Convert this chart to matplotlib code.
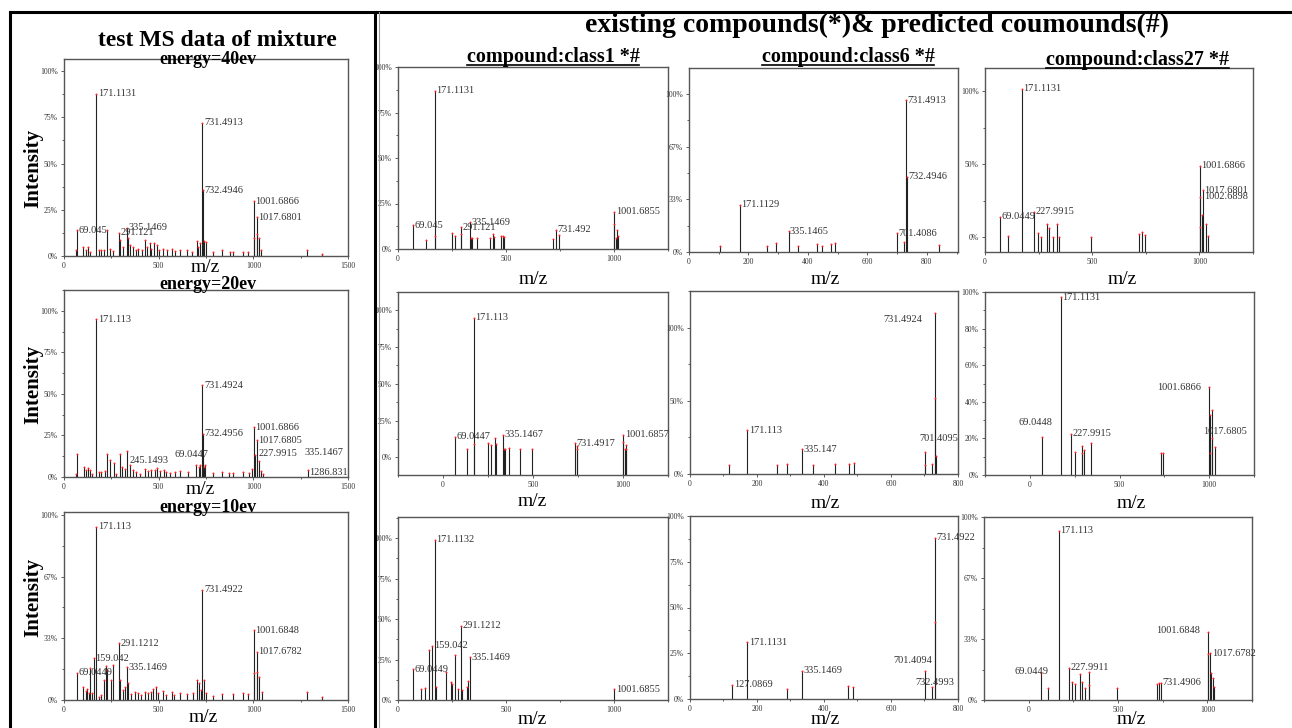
import matplotlib
matplotlib.use('Agg')
import matplotlib.pyplot as plt
from matplotlib.ticker import AutoMinorLocator
from matplotlib.lines import Line2D

W, H = 1292, 728
SERIF = 'Liberation Serif'

# peaks: (m/z, relative intensity)
mix40 = [(62, .03), (69.045, .14), (100, .05), (115, .03), (127, .05), (136, .02), (171.1131, .876),
         (184, .03), (198, .03), (212, .035), (228, .14), (242, .04), (259, .027), (291.121, .127),
         (298, .086), (312, .05), (335.1469, .15), (339, .10), (351, .06), (365, .05), (380, .03),
         (392, .04), (410, .032), (427, .086), (440, .05), (454, .068), (462, .04), (475, .068),
         (489, .06), (503, .032), (524, .04), (542, .03), (568, .04), (586, .025), (612, .032),
         (648, .03), (674, .022), (701, .082), (709, .05), (718, .068), (731.4913, .72),
         (732.4946, .355), (740, .082), (748, .073), (789, .023), (833, .032), (877, .023),
         (895, .02), (948, .023), (974, .02), (1001.6866, .296), (1004, .10), (1017.6801, .21),
         (1022, .12), (1032, .095), (1041, .03), (1283, .035), (1362, .01)]
mix20 = [(65, .02), (69.0447, .14), (104, .06), (114, .04), (127, .056), (136, .04), (146, .02),
         (171.113, .948), (185, .03), (197, .03), (215, .034), (229, .14), (245.1493, .10),
         (262, .086), (276, .02), (294, .137), (308, .06), (324, .046), (335.1467, .155), (350, .07),
         (365, .04), (382, .03), (400, .02), (426, .05), (444, .034), (461, .04), (479, .04),
         (491, .054), (505, .034), (527, .04), (541, .03), (558, .024), (585, .03), (611, .034),
         (655, .03), (699, .07), (711, .06), (720, .074), (731.4924, .553), (732.4956, .26),
         (738, .06), (747, .074), (787, .024), (836, .03), (872, .024), (893, .024), (946, .03),
         (977, .026), (993, .05), (1001.6866, .30), (1011, .13), (1017.6805, .22), (1030, .096),
         (1042, .034), (1051, .02), (1286.831, .045)]
mix10 = [(69.0449, .148), (100, .068), (115, .05), (124, .058), (132, .036), (139, .175), (150, .036),
         (159.042, .225), (171.113, .937), (185, .018), (198, .027), (212, .11), (221, .184),
         (228, .16), (247, .108), (259, .19), (291.1212, .306), (298, .11), (309, .054), (321, .072),
         (335.1469, .177), (339, .09), (356, .032), (374, .045), (392, .036), (409, .027), (427, .045),
         (445, .036), (457, .045), (471, .058), (485, .072), (498, .036), (524, .05), (538, .027),
         (568, .045), (581, .027), (612, .04), (648, .03), (683, .036), (700, .108), (713, .09),
         (722, .054), (731.4922, .595), (739, .108), (750, .036), (789, .022), (833, .032),
         (895, .032), (948, .036), (974, .032), (1001.6848, .378), (1006, .144), (1017.6782, .26),
         (1022, .153), (1031, .126), (1045, .045), (1283, .045), (1362, .014)]

class1_r1 = [(69.045, .13), (130, .05), (171.1131, .87), (171.6, .07), (250, .088), (264, .07),
             (291.121, .12), (291.6, .08), (335.1469, .148), (337, .06), (344, .06), (365, .06),
             (425, .06), (440, .08), (445, .065), (476, .07), (487, .07), (490, .065), (717, .055),
             (731.492, .105), (745, .075), (1001.6855, .205), (1002, .135), (1010, .06), (1015, .105),
             (1017, .07)]
class6_r1 = [(104, .04), (171.1129, .30), (262, .04), (293, .055), (335.1465, .13), (367, .04),
             (431, .05), (447, .04), (477, .05), (491, .06), (701.4086, .12), (723, .065),
             (731.4913, .96), (732.4946, .475), (840, .045)]
class27_r1 = [(69.0449, .139), (106, .005), (171.1131, 1.018), (227.9915, .173), (245, .03), (263, .0),
              (290, .089), (297, .064), (319, .002), (338, .089), (343, .0), (495, .002), (718, .018),
              (731, .032), (745, .011), (1001.6866, .488), (1002.6898, .276), (1003, .07), (1014, .15),
              (1017.6801, .322), (1033, .089), (1040, .01)]

class1_r2 = [(69.0447, .14), (133, .06), (171.113, .95), (172, .09), (250, .10), (267, .085),
             (291, .135), (292, .09), (335.1467, .155), (339, .06), (344, .06), (367, .065),
             (428, .055), (494, .055), (731.4917, .097), (744, .08), (745, .06), (1001.6857, .155),
             (1002, .105), (1010, .06), (1017, .085), (1018, .06)]
class6_r2 = [(117, .06), (171.113, .30), (261, .06), (291, .065), (335.147, .17), (366, .06),
             (432, .065), (474, .07), (489, .075), (701.4095, .15), (702, .06), (723, .07),
             (731.4924, 1.10), (732, .52), (733, .12)]
class27_r2 = [(69.0448, .21), (171.1131, .97), (227.9915, .225), (250, .125), (289, .12), (290, .16),
              (300, .135), (339, .175), (731, .12), (745, .12), (1001.6866, .48), (1002, .33),
              (1003, .12), (1017.6805, .355), (1018, .20), (1033, .155)]

class1_r3 = [(69.0449, .19), (107, .065), (125, .075), (143, .31), (159.042, .335), (171.1132, .99),
             (175, .08), (222, .17), (246, .11), (248, .10), (264, .28), (276, .065), (291.1212, .46),
             (294, .06), (319, .08), (322, .115), (335.1469, .265), (1001.6855, .065)]
class6_r3 = [(126, .077), (171.1131, .31), (290, .055), (335.1469, .155), (472, .07), (486, .065),
             (701.4094, .155), (723, .065), (731.4922, .88), (732.4993, .42)]
class27_r3 = [(69.0449, .145), (106, .067), (171.113, .925), (227.9911, .175), (245, .10), (260, .087),
              (289, .14), (298, .10), (317, .068), (335, .155), (340, .08), (494, .065), (716, .087),
              (731.4906, .095), (740, .095), (1001.6848, .37), (1002, .25), (1017.6782, .255),
              (1018, .15), (1033, .12), (1035, .07)]

# peak labels: (text, x, y, ha)
mix40_lab = [("171.1131", 171.1, .876, 'left'), ("731.4913", 731.5, .72, 'left'),
             ("732.4946", 732, .355, 'left'), ("1001.6866", 1001.7, .296, 'left'),
             ("1017.6801", 1017.7, .21, 'left'), ("69.045", 69, .14, 'left'),
             ("291.121", 291, .125, 'left'), ("335.1469", 335, .155, 'left')]
mix20_lab = [("171.113", 171.1, .948, 'left'), ("731.4924", 731.5, .553, 'left'),
             ("732.4956", 732, .26, 'left'), ("1001.6866", 1001.7, .30, 'left'),
             ("1017.6805", 1017.7, .22, 'left'), ("227.9915", 1019, .14, 'left'),
             ("335.1467", 1263, .15, 'left'), ("1286.831", 1289, .03, 'left'),
             ("245.1493", 338, .10, 'left'), ("69.0447", 576, .137, 'left')]
mix10_lab = [("171.113", 171.1, .937, 'left'), ("731.4922", 731.5, .595, 'left'),
             ("1001.6848", 1001.7, .378, 'left'), ("1017.6782", 1017.7, .26, 'left'),
             ("291.1212", 291, .306, 'left'), ("159.042", 159, .225, 'left'),
             ("335.1469", 335, .177, 'left'), ("69.0449", 69, .148, 'left')]

class1_r1_lab = [("69.045", 69, .13, 'left'), ("171.1131", 171.1, .87, 'left'),
                 ("291.121", 291, .12, 'left'), ("335.1469", 335, .148, 'left'),
                 ("731.492", 731.5, .105, 'left'), ("1001.6855", 1001.7, .205, 'left')]
class6_r1_lab = [("171.1129", 171.1, .30, 'left'), ("335.1465", 335, .13, 'left'),
                 ("701.4086", 701.4, .12, 'left'), ("731.4913", 731.5, .96, 'left'),
                 ("732.4946", 732.5, .475, 'left')]
class27_r1_lab = [("69.0449", 69, .139, 'left'), ("171.1131", 171.1, 1.018, 'left'),
                  ("227.9915", 228, .173, 'left'), ("1001.6866", 1001.7, .488, 'left'),
                  ("1017.6801", 1017.7, .322, 'left'), ("1002.6898", 1017.7, .276, 'left')]

class1_r2_lab = [("69.0447", 69, .14, 'left'), ("171.113", 171.1, .95, 'left'),
                 ("335.1467", 335, .155, 'left'), ("731.4917", 731.5, .097, 'left'),
                 ("1001.6857", 1001.7, .155, 'left')]
class6_r2_lab = [("171.113", 171.1, .30, 'left'), ("335.147", 335, .17, 'left'),
                 ("731.4924", 573, 1.056, 'left'), ("701.4095", 681, .245, 'left')]
class27_r2_lab = [("69.0448", -72, .285, 'left'), ("171.1131", 171.1, .97, 'left'),
                  ("227.9915", 228, .225, 'left'), ("1001.6866", 961, .48, 'right'),
                  ("1017.6805", 961, .235, 'left')]

class1_r3_lab = [("69.0449", 69, .19, 'left'), ("159.042", 162, .335, 'left'),
                 ("171.1132", 171.1, .99, 'left'), ("291.1212", 291, .46, 'left'),
                 ("335.1469", 335, .265, 'left'), ("1001.6855", 1001.7, .065, 'left')]
class6_r3_lab = [("127.0869", 127, .077, 'left'), ("171.1131", 171.1, .31, 'left'),
                 ("335.1469", 335, .155, 'left'), ("701.4094", 602, .21, 'left'),
                 ("731.4922", 731.5, .88, 'left'), ("732.4993", 668, .088, 'left')]
class27_r3_lab = [("69.0449", -89, .158, 'left'), ("171.113", 171.1, .925, 'left'),
                  ("227.9911", 228, .175, 'left'), ("731.4906", 739, .093, 'left'),
                  ("1001.6848", 967, .38, 'right'), ("1017.6782", 1017.7, .255, 'left')]

pct4 = ([0, .25, .5, .75, 1], ["0%", "25%", "50%", "75%", "100%"])
pct3 = ([0, 1/3, 2/3, 1], ["0%", "33%", "67%", "100%"])
pct2 = ([0, .5, 1], ["0%", "50%", "100%"])
pct5 = ([0, .2, .4, .6, .8, 1], ["0%", "20%", "40%", "60%", "80%", "100%"])

fig = plt.figure(figsize=(W / 100, H / 100), dpi=100)


def fx(x):
    return x / W


def fy(y):
    return 1 - y / H


def panel(box, peaks, labels, xlim, ylim, xticks, yt):
    x0, y0, x1, y1 = box
    ax = fig.add_axes([fx(x0), fy(y1), (x1 - x0) / W, (y1 - y0) / H])
    mz = [p[0] for p in peaks]
    inten = [p[1] for p in peaks]
    ax.vlines(mz, ylim[0], inten, colors='#222222', lw=0.8)
    ax.plot(mz, inten, 'o', ms=1.4, color='#ff2020', mec='none')
    for txt, x, y, ha in labels:
        dx = 1 if ha == 'left' else -1
        ax.annotate(txt, (x, y), xytext=(dx, 0), textcoords='offset points',
                    ha=ha, va='center', fontsize=7.5, family=SERIF, color='#333')
    ax.set_xlim(*xlim)
    ax.set_ylim(*ylim)
    ax.set_xticks(xticks)
    ax.set_yticks(yt[0])
    ax.set_yticklabels(yt[1])
    ax.xaxis.set_minor_locator(AutoMinorLocator(2))
    ax.yaxis.set_minor_locator(AutoMinorLocator(2))
    ax.tick_params(which='both', labelsize=5.5, length=2.5, width=0.6, color='#444', pad=2)
    ax.tick_params(which='minor', length=1.5)
    for lab in ax.get_xticklabels() + ax.get_yticklabels():
        lab.set_family(SERIF)
        lab.set_color('#333')
    for s in ax.spines.values():
        s.set_color('#555')
        s.set_linewidth(1.0)
    return ax


# left column: test mixture
panel((64, 59, 348, 256), mix40, mix40_lab, (0, 1500), (0, 1.065), [0, 500, 1000, 1500], pct4)
panel((64, 290, 348, 477), mix20, mix20_lab, (0, 1500), (0, 1.125), [0, 500, 1000, 1500], pct4)
panel((64, 512, 348, 700), mix10, mix10_lab, (0, 1500), (0, 1.016), [0, 500, 1000, 1500], pct3)

# right grid
panel((398, 67, 668, 249), class1_r1, class1_r1_lab, (0, 1250), (0, 1.0), [0, 500, 1000], pct4)
panel((689, 68, 958, 252), class6_r1, class6_r1_lab, (0, 905), (0, 1.165), [0, 200, 400, 600, 800], pct3)
panel((985, 68, 1253, 252), class27_r1, class27_r1_lab, (0, 1250), (-0.103, 1.16), [0, 500, 1000], pct2)

panel((398, 292, 668, 475), class1_r2, class1_r2_lab, (-250, 1250), (-0.12, 1.125), [0, 500, 1000], pct4)
panel((690, 291, 958, 474), class6_r2, class6_r2_lab, (0, 800), (0, 1.25), [0, 200, 400, 600, 800], pct2)
panel((985, 292, 1254, 475), class27_r2, class27_r2_lab, (-250, 1250), (0, 1.0), [0, 500, 1000], pct5)

panel((398, 517, 668, 700), class1_r3, class1_r3_lab, (0, 1250), (0, 1.13), [0, 500, 1000], pct4)
panel((690, 516, 958, 699), class6_r3, class6_r3_lab, (0, 800), (0, 1.0), [0, 200, 400, 600, 800], pct4)
panel((984, 517, 1252, 700), class27_r3, class27_r3_lab, (-250, 1250), (0, 1.0), [0, 500, 1000], pct3)

# titles and axis words
fig.text(fx(217), fy(41), "test MS data of mixture", ha='center', va='center',
         fontsize=17, weight='bold', family=SERIF)
fig.text(fx(877), fy(25), "existing compounds(*)& predicted coumounds(#)", ha='center', va='center',
         fontsize=20, weight='bold', family=SERIF)

for txt, y in [("energy=40ev", 60), ("energy=20ev", 285), ("energy=10ev", 507)]:
    fig.text(fx(208), fy(y), txt, ha='center', va='center', fontsize=13, weight='bold', family=SERIF)

for y in [168, 384, 597]:
    fig.text(fx(33), fy(y), "Intensity", ha='center', va='center', rotation=90,
             fontsize=15, weight='bold', family=SERIF)

for x, y in [(205, 268), (200, 490), (203, 718), (533, 279), (825, 280), (1122, 280),
             (532, 502), (825, 503), (1131, 503), (532, 720), (825, 720), (1131, 720)]:
    fig.text(fx(x), fy(y), "m/z", ha='center', va='center', fontsize=14, family=SERIF)

subs = []
for txt, x, y in [("compound:class1 *#", 553, 57), ("compound:class6 *#", 848, 57),
                  ("compound:class27 *#", 1137, 60)]:
    subs.append(fig.text(fx(x), fy(y), txt, ha='center', va='center', fontsize=14.5,
                         weight='bold', family=SERIF))

# frame lines
fig.add_artist(Line2D([fx(10), 1], [fy(12), fy(12)], color='black', lw=2.2))
fig.add_artist(Line2D([fx(10), fx(10)], [fy(12), 0], color='black', lw=2.2))
fig.add_artist(Line2D([fx(375), fx(375)], [fy(12), 0], color='black', lw=2.2))
fig.add_artist(Line2D([fx(379), fx(379)], [fy(12), 0], color='#999', lw=0.8))

# underline the compound titles
fig.canvas.draw()
inv = fig.transFigure.inverted()
for t in subs:
    bb = t.get_window_extent().transformed(inv)
    fig.add_artist(Line2D([bb.x0, bb.x1], [bb.y0 + 1.5 / H, bb.y0 + 1.5 / H], color='black', lw=1.2))

fig.savefig("out.png", dpi=100)
